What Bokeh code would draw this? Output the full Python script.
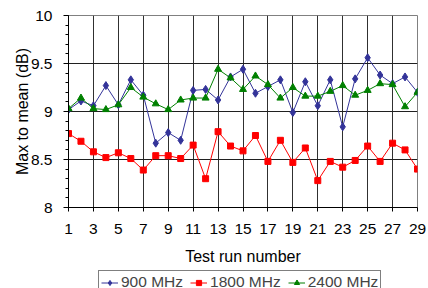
from bokeh.plotting import figure
from bokeh.layouts import column
from bokeh.models import (FixedTicker, Legend, LegendItem, NumeralTickFormatter,
                          Range1d)
from bokeh.embed import file_html
from bokeh.resources import INLINE

runs = list(range(1, 30))
mhz900 = [9.02, 9.11, 9.06, 9.27, 9.07, 9.33, 9.17, 8.67, 8.78, 8.70,
          9.22, 9.23, 9.12, 9.36, 9.44, 9.19, 9.26, 9.33, 8.99, 9.31,
          9.06, 9.33, 8.84, 9.34, 9.56, 9.38, 9.29, 9.36, 9.20]
mhz1800 = [8.77, 8.69, 8.58, 8.52, 8.57, 8.51, 8.39, 8.54, 8.54, 8.51,
           8.65, 8.30, 8.79, 8.64, 8.59, 8.75, 8.48, 8.70, 8.47, 8.62,
           8.28, 8.48, 8.42, 8.49, 8.64, 8.48, 8.67, 8.60, 8.40]
mhz2400 = [9.03, 9.14, 9.03, 9.02, 9.07, 9.25, 9.15, 9.08, 9.02, 9.12,
           9.14, 9.14, 9.44, 9.35, 9.23, 9.37, 9.28, 9.14, 9.25, 9.16,
           9.16, 9.21, 9.27, 9.17, 9.22, 9.29, 9.28, 9.05, 9.20]
x_ticks = list(range(1, 30, 2))
y_ticks = [8, 8.5, 9, 9.5, 10]
y_minor = [round(8 + 0.1 * i, 1) for i in range(21)]
series_labels = ["900 MHz", "1800 MHz", "2400 MHz"]

FONT = "Liberation Sans"
FS_TICK = "15.5px"
FS_LABEL = "16px"

p = figure(width=428, height=268, output_backend="svg", toolbar_location=None,
           x_range=Range1d(1, 29), y_range=Range1d(8, 10),
           min_border_left=68, min_border_right=11, min_border_top=15,
           min_border_bottom=61)
p.outline_line_color = "#808080"
p.outline_line_width = 1

# grids
p.xgrid.ticker = FixedTicker(ticks=x_ticks)
p.ygrid.ticker = FixedTicker(ticks=y_ticks)
p.xgrid.grid_line_color = "#303030"
p.ygrid.grid_line_color = "#202020"
p.xgrid.grid_line_width = 1
p.ygrid.grid_line_width = 1

# axes
xa = p.xaxis[0]
xa.ticker = FixedTicker(ticks=x_ticks)
xa.axis_label = "Test run number"
xa.major_tick_out = 4
xa.major_tick_in = 0
xa.minor_tick_out = 0
xa.major_label_standoff = 12
xa.axis_label_standoff = 11

ya = p.yaxis[0]
ya.ticker = FixedTicker(ticks=y_ticks, minor_ticks=y_minor)
ya.formatter = NumeralTickFormatter(format="0.[0]")
ya.axis_label = "Max to mean (dB)"
ya.major_tick_out = 5
ya.major_tick_in = 0
ya.minor_tick_out = 3
ya.minor_tick_in = 0
ya.major_label_standoff = 11
ya.axis_label_standoff = -3

for ax in (xa, ya):
    ax.axis_line_color = "black"
    ax.major_tick_line_color = "black"
    ax.minor_tick_line_color = "black"
    ax.major_label_text_font = FONT
    ax.major_label_text_font_size = FS_TICK
    ax.major_label_text_color = "black"
    ax.axis_label_text_font = FONT
    ax.axis_label_text_font_size = FS_LABEL
    ax.axis_label_text_font_style = "normal"
    ax.axis_label_text_color = "black"

colors = ["#333399", "#ff0000", "#008000"]
markers = ["diamond", "square", "triangle"]
sizes = [8, 6, 7]

# legend strip below the chart (frames are aligned by the column layout)
p2 = figure(width=428, height=20, output_backend="svg", toolbar_location=None,
            x_axis_type=None, y_axis_type=None, min_border=0,
            x_range=Range1d(0, 1), y_range=Range1d(0, 1))
p2.outline_line_color = None

items = []
for vals, c, m, s, lab in zip([mhz900, mhz1800, mhz2400], colors, markers, sizes, series_labels):
    p.line(runs, vals, line_color=c, line_width=1)
    p.scatter(runs, vals, marker=m, size=s, fill_color=c, line_color=c)
    ln2 = p2.line([-5, -4], [-5, -4], line_color=c, line_width=1)
    sc2 = p2.scatter([-5], [-5], marker=m, size=s, fill_color=c, line_color=c)
    items.append(LegendItem(label=lab, renderers=[ln2, sc2]))

legend = Legend(items=items, orientation="horizontal", location=(30, -6),
                label_text_font=FONT, label_text_font_size="15.5px",
                glyph_width=17, glyph_height=13, label_standoff=3, spacing=7,
                padding=2, margin=0, border_line_color="black", border_line_width=1,
                label_height=13)
p2.add_layout(legend, "center")

layout = column(p, p2, spacing=0)
open("out.html", "w").write(file_html(layout, INLINE))
